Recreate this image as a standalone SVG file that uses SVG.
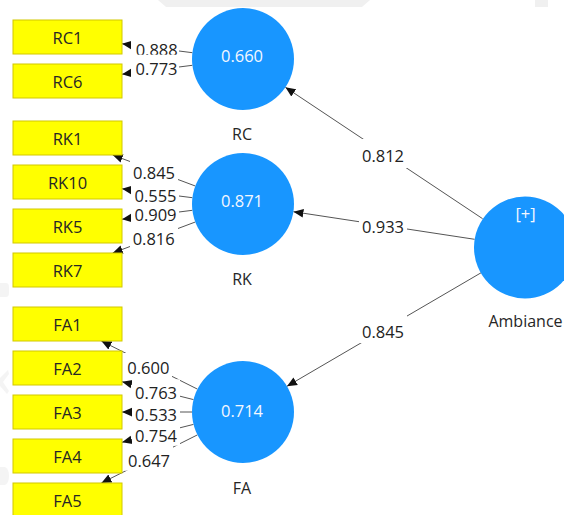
<svg xmlns="http://www.w3.org/2000/svg" width="564" height="515" viewBox="0 0 564 515">
  <style>
    text { font-family: "Open Sans", "Noto Sans", sans-serif; }
    .ind rect { fill: #ffff00; stroke: #d2c800; stroke-width: 1; }
    .ind text { font-size: 16.5px; fill: #262626; text-anchor: middle; }
    .lv circle { fill: #1896ff; }
    .lv .val { font-size: 16.5px; fill: #f4f8ff; text-anchor: middle; }
    .lv .name { font-size: 16px; fill: #262626; text-anchor: middle; }
    .edge { stroke: #555555; stroke-width: 1; fill: none; marker-end: url(#arrow); }
    .lbl rect { fill: #ffffff; }
    .lbl text { font-size: 16.5px; fill: #222222; text-anchor: middle; }
    .wm { fill: #f0f0f0; }
  </style>
  <defs>
    <marker id="arrow" markerUnits="userSpaceOnUse" markerWidth="10" markerHeight="10" viewBox="0 -4 8 8" refX="8" refY="0" orient="auto">
      <path d="M0,-3.5 L8,0 L0,3.5 z" fill="#111111"/>
    </marker>
  </defs>

  <rect x="0" y="0" width="564" height="515" fill="#ffffff"/>

  <!-- faint background shapes -->
  <g id="background">
    <path class="wm" d="M158,0 H370 L362,7 H166 Z"/>
    <rect class="wm" x="535" y="0" width="13" height="7"/>
    <path class="wm" d="M0,283 H6 Q9,283 9,287 V293 Q9,297 6,297 H0 Z" opacity="0.7"/>
    <path class="wm" d="M0,378 L8,370 L9,374 L3,382 L9,391 L7,394 L0,386 Z" opacity="0.7"/>
    <path class="wm" d="M0,467 H5 Q9,469 9,476 Q9,483 5,485 H0 Z" opacity="0.7"/>
  </g>

  <!-- connectors: outer loadings and structural paths -->
  <g id="connectors">
    <line class="edge" x1="192.4" y1="52.7" x2="122" y2="43.8"/>
    <line class="edge" x1="192.4" y1="65.3" x2="122" y2="74.2"/>

    <line class="edge" x1="195.3" y1="186" x2="112.7" y2="155"/>
    <line class="edge" x1="192.4" y1="197.7" x2="122" y2="188.8"/>
    <line class="edge" x1="192.4" y1="210.3" x2="122" y2="219.2"/>
    <line class="edge" x1="195.3" y1="222" x2="112.7" y2="253"/>

    <line class="edge" x1="197.4" y1="389.1" x2="101.4" y2="341"/>
    <line class="edge" x1="193.5" y1="399.6" x2="122" y2="381.7"/>
    <line class="edge" x1="192" y1="412" x2="122" y2="412"/>
    <line class="edge" x1="193.5" y1="424.4" x2="122" y2="442.3"/>
    <line class="edge" x1="197.4" y1="434.9" x2="101.4" y2="483"/>

    <line class="edge" x1="482.6" y1="218.7" x2="285.4" y2="87.3"/>
    <line class="edge" x1="474.6" y1="239.3" x2="293.4" y2="211.7"/>
    <line class="edge" x1="481" y1="272.8" x2="287" y2="386.2"/>

    <!-- path coefficients / loadings -->
    <g class="lbl">
      <rect x="131" y="35.4" width="48" height="25"/><text x="156.7" y="56.4">0.888</text>
      <rect x="131" y="54.7" width="48" height="24"/><text x="156.5" y="74.7">0.773</text>

      <rect x="130" y="224" width="48" height="25"/><text x="153.7" y="245">0.816</text>
      <rect x="131" y="200.7" width="48" height="24"/><text x="155.5" y="220.7">0.909</text>
      <rect x="131" y="181.7" width="48" height="24"/><text x="155.5" y="201.7">0.555</text>
      <rect x="130" y="158" width="48" height="25"/><text x="154" y="179">0.845</text>

      <rect x="125" y="445.7" width="48" height="25"/><text x="149" y="466.7">0.647</text>
      <rect x="132" y="421.7" width="48" height="24"/><text x="156" y="441.7">0.754</text>
      <rect x="132" y="400.7" width="48" height="24"/><text x="156" y="420.7">0.533</text>
      <rect x="132" y="379.3" width="48" height="24"/><text x="156" y="399.3">0.763</text>
      <rect x="124" y="353" width="48" height="25"/><text x="148.3" y="374">0.600</text>

      <rect x="359" y="139" width="48" height="29"/><text x="383" y="162.3">0.812</text>
      <rect x="359" y="211" width="48" height="27"/><text x="383" y="233.3">0.933</text>
      <rect x="359" y="315" width="48" height="28"/><text x="383" y="338.3">0.845</text>
    </g>
  </g>

  <!-- indicator boxes -->
  <g id="RC1" class="ind"><rect x="13" y="20" width="109" height="34"/><text x="67.5" y="43.8">RC1</text></g>
  <g id="RC6" class="ind"><rect x="13" y="64" width="109" height="34"/><text x="67.5" y="87.8">RC6</text></g>

  <g id="RK1" class="ind"><rect x="13" y="121" width="109" height="34"/><text x="67.5" y="144.8">RK1</text></g>
  <g id="RK10" class="ind"><rect x="13" y="165" width="109" height="34"/><text x="67.5" y="188.8">RK10</text></g>
  <g id="RK5" class="ind"><rect x="13" y="209" width="109" height="34"/><text x="67.5" y="232.8">RK5</text></g>
  <g id="RK7" class="ind"><rect x="13" y="253" width="109" height="34"/><text x="67.5" y="276.8">RK7</text></g>

  <g id="FA1" class="ind"><rect x="13" y="307" width="109" height="34"/><text x="67.5" y="330.8">FA1</text></g>
  <g id="FA2" class="ind"><rect x="13" y="351" width="109" height="34"/><text x="67.5" y="374.8">FA2</text></g>
  <g id="FA3" class="ind"><rect x="13" y="395" width="109" height="34"/><text x="67.5" y="418.8">FA3</text></g>
  <g id="FA4" class="ind"><rect x="13" y="439" width="109" height="34"/><text x="67.5" y="462.8">FA4</text></g>
  <g id="FA5" class="ind"><rect x="13" y="483" width="109" height="34"/><text x="67.5" y="506.8">FA5</text></g>

  <!-- latent variables -->
  <g id="RC" class="lv">
    <circle cx="243" cy="59" r="51"/>
    <text class="val" x="242" y="61.7">0.660</text>
    <text class="name" x="242" y="139.5">RC</text>
  </g>
  <g id="RK" class="lv">
    <circle cx="243" cy="204" r="51"/>
    <text class="val" x="242" y="206.7">0.871</text>
    <text class="name" x="242" y="285">RK</text>
  </g>
  <g id="FA" class="lv">
    <circle cx="243" cy="412" r="51"/>
    <text class="val" x="242" y="416.7">0.714</text>
    <text class="name" x="242" y="494">FA</text>
  </g>
  <g id="Ambiance" class="lv">
    <circle cx="525" cy="247.5" r="51"/>
    <text class="val" x="525.5" y="220">[+]</text>
    <text class="name" x="525.5" y="327">Ambiance</text>
  </g>
</svg>
